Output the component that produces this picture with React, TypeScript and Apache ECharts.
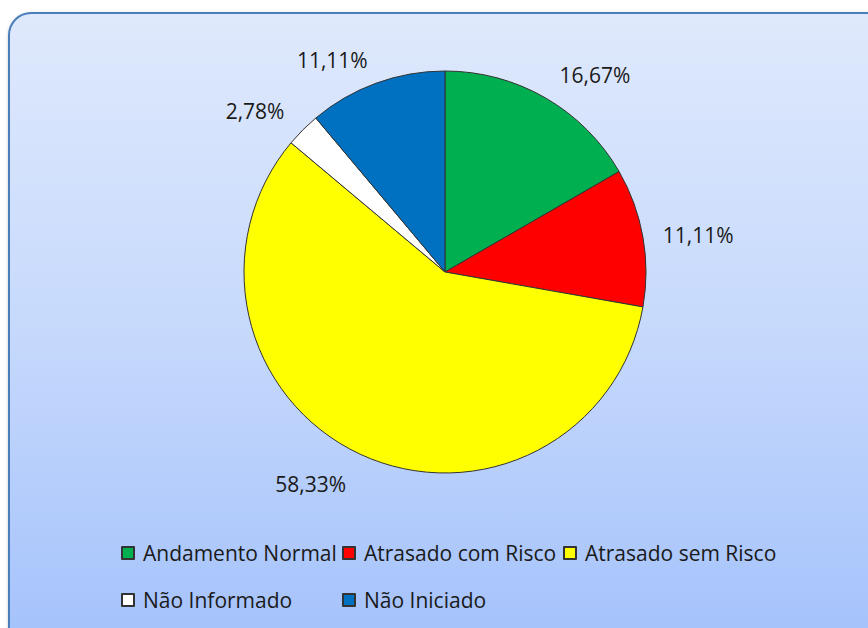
import React, { useEffect, useRef } from "react";
import * as echarts from "echarts";

const categories = [
  "Andamento Normal",
  "Atrasado com Risco",
  "Atrasado sem Risco",
  "Não Informado",
  "Não Iniciado",
];
const percentages = [16.67, 11.11, 58.33, 2.78, 11.11];
const sliceColors = ["#00b050", "#ff0000", "#ffff00", "#ffffff", "#0070c0"];
const labelLineLengths = [26, 12, 33, 26, 25];
const labelLineLengths2 = [1, 8, 0, 0, 0];

const FONT = "'Open Sans', 'Noto Sans', sans-serif";

export default function App() {
  const ref = useRef<HTMLDivElement>(null);
  useEffect(() => {
    if (!ref.current) return;
    const chart = echarts.init(ref.current, undefined, { renderer: "svg" });
    chart.setOption({
      animation: false,
      graphic: [
        {
          type: "rect",
          z: -10,
          silent: true,
          shape: { x: 9, y: 13, width: 880, height: 640, r: 22 },
          style: {
            fill: new echarts.graphic.LinearGradient(0, 0, 0, 1, [
              { offset: 0, color: "#dfe9fc" },
              { offset: 0.5, color: "#c6d9fc" },
              { offset: 1, color: "#a3c1fb" },
            ]),
            stroke: "#4a7ebb",
            lineWidth: 2,
            shadowBlur: 4,
            shadowColor: "rgba(0,0,0,0.3)",
            shadowOffsetX: 1,
            shadowOffsetY: 2,
          },
        },
      ],
      legend: {
        left: 121,
        top: 531,
        width: 690,
        padding: 0,
        itemWidth: 12,
        itemHeight: 12,
        itemGap: 3,
        icon: "rect",
        data: categories,
        textStyle: {
          fontFamily: FONT,
          fontSize: 21,
          color: "#1a1a1a",
          width: 196,
          lineHeight: 44,
          padding: [0, 0, 0, 4],
        },
      },
      series: [
        {
          type: "pie",
          center: [445, 272],
          radius: 201,
          startAngle: 90,
          clockwise: true,
          avoidLabelOverlap: false,
          itemStyle: { borderColor: "#333", borderWidth: 1 },
          label: {
            show: true,
            position: "outside",
            distanceToLabelLine: 0,
            fontFamily: FONT,
            fontSize: 21,
            color: "#1a1a1a",
            formatter: (p: any) => p.value.toFixed(2).replace(".", ",") + "%",
          },
          labelLine: { show: false },
          emphasis: { disabled: true },
          data: categories.map((name, i) => ({
            name,
            value: percentages[i],
            itemStyle: { color: sliceColors[i] },
            labelLine: {
              show: false,
              length: labelLineLengths[i],
              length2: labelLineLengths2[i],
            },
          })),
        },
      ],
    });
    return () => chart.dispose();
  }, []);
  return (
    <div
      ref={ref}
      style={{ position: "fixed", left: 0, top: 0, width: 868, height: 628, background: "#fff" }}
    />
  );
}
